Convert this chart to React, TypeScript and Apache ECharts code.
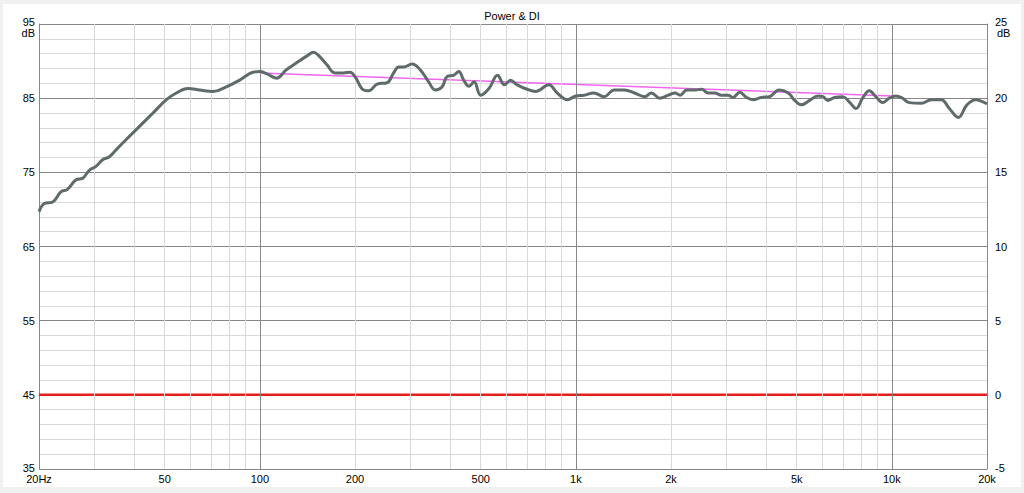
import React, { useEffect, useRef } from "react";
import * as echarts from "echarts";

// Power response (dB)
const powerFreqs = [
  20, 20.8, 22.1, 23.5, 24.6, 26.2, 27.5, 28.9, 30.3, 31.8, 33.4, 35, 37.7, 41.6, 45.9, 50.6, 54.4,
  59.2, 64.5, 71, 78, 86, 95, 100, 105, 113, 121, 132, 141, 148, 153, 163, 173, 184, 193, 200, 213,
  221, 235, 253, 265, 275, 285, 303, 322, 342, 359, 377, 391, 411, 426, 442, 459, 476, 500, 531, 565,
  594, 621, 652, 701, 745, 821, 873, 939, 1000, 1060, 1140, 1228, 1322, 1424, 1533, 1651, 1733, 1843,
  1962, 2060, 2137, 2244, 2385, 2500, 2621, 2752, 2889, 3030, 3143, 3300, 3467, 3640, 3855, 4096,
  4396, 4700, 4925, 5170, 5490, 5830, 6050, 6270, 6580, 6990, 7330, 7700, 8080, 8480, 8900, 9350,
  9810, 10300, 10800, 11340, 12400, 13330, 14330, 15200, 16230, 17280, 18400, 19430, 20000,
];
const powerDb = [
  69.7, 70.8, 71.0, 72.4, 72.7, 74.0, 74.2, 75.3, 75.8, 76.7, 77.1, 78.0, 79.4, 81.2, 83.0, 84.8, 85.7,
  86.3, 86.1, 85.9, 86.5, 87.4, 88.5, 88.6, 88.3, 87.7, 88.8, 89.9, 90.7, 91.2, 90.8, 89.5, 88.4, 88.4,
  88.5, 87.9, 86.1, 86.0, 86.9, 87.1, 88.4, 89.2, 89.2, 89.6, 88.8, 87.2, 86.1, 86.5, 87.9, 88.1, 88.6,
  87.4, 86.6, 87.2, 85.4, 86.3, 88.1, 86.8, 87.4, 86.8, 86.2, 85.9, 86.8, 85.7, 84.8, 85.3, 85.4, 85.7,
  85.2, 86.1, 86.1, 85.7, 85.2, 85.7, 85.0, 85.4, 85.7, 85.4, 86.1, 86.1, 86.2, 85.7, 85.7, 85.4, 85.4,
  85.1, 85.8, 85.1, 84.8, 85.1, 85.2, 86.1, 85.7, 84.7, 84.1, 84.7, 85.3, 85.2, 84.7, 85.1, 85.2, 84.5,
  83.6, 85.0, 86.0, 85.2, 84.4, 85.0, 85.3, 85.0, 84.4, 84.3, 84.8, 84.8, 83.6, 82.4, 84.1, 84.8, 84.5,
  84.2,
];

// Slope reference line (dB)
const slopeFreqs = [100, 10000];
const slopeDb = [88.4, 85.3];

// Directivity index (right axis, dB)
const diFreqs = [20, 20000];
const diValues = [0, 0];

// Axis ticks / grid
const xLabelFreqs = [20, 50, 100, 200, 500, 1000, 2000, 5000, 10000, 20000];
const xMinorGrid = [
  30, 40, 50, 60, 70, 80, 90, 200, 300, 400, 500, 600, 700, 800, 900, 2000, 3000, 4000, 5000, 6000,
  7000, 8000, 9000,
];
const xMajorGrid = [100, 1000, 10000];
const leftTicks = [35, 45, 55, 65, 75, 85, 95];

const FONT = "Liberation Sans";
const MAJOR = "#878787";
const MINOR = "#d9d9d9";

const App = () => {
  const chartRef = useRef<HTMLDivElement>(null);

  useEffect(() => {
    const chart = echarts.init(chartRef.current, null, { renderer: "svg" });
    const label = { color: "#000", fontFamily: FONT, fontSize: 11 };
    const rich = {
      up: { ...label, padding: [0, 0, 4, 0] },
      lo: { ...label, padding: [0, 0, 3, 0] },
    };
    const edgeFmt = (top: number, bottom: number) => (v: number) =>
      v === top ? `{up|${v}}` : v === bottom ? `{lo|${v}}` : `${v}`;

    chart.setOption({
      animation: false,
      title: {
        text: "Power & DI",
        left: "center",
        top: 1,
        textStyle: { ...label, fontWeight: "normal" },
      },
      graphic: [
        { type: "text", right: 1018 - 32, top: 23, style: { text: "dB", fill: "#000", font: `11px ${FONT}` } },
        { type: "text", left: 994, top: 23, style: { text: "dB", fill: "#000", font: `11px ${FONT}` } },
      ],
      grid: { left: 36, top: 20, right: 34, bottom: 18 },
      xAxis: {
        type: "log",
        logBase: 10,
        min: 20,
        max: 20000,
        axisLine: { show: true, lineStyle: { color: MAJOR } },
        axisTick: { show: false },
        splitLine: { show: false },
        minorSplitLine: { show: false },
        axisLabel: {
          ...label,
          margin: 4,
          customValues: xLabelFreqs,
          showMinLabel: true,
          showMaxLabel: true,
          hideOverlap: false,
          formatter: (v: number) =>
            v === 20 ? "20Hz" : v >= 1000 ? `${Math.round(v / 1000)}k` : `${Math.round(v)}`,
        },
      },
      yAxis: [
        {
          type: "value",
          min: 35,
          max: 95,
          position: "left",
          axisLine: { show: true, lineStyle: { color: MAJOR } },
          axisTick: { show: false },
          splitLine: { show: false },
          axisLabel: {
            ...label,
            margin: 4,
            customValues: leftTicks,
            showMinLabel: true,
            showMaxLabel: true,
            formatter: edgeFmt(95, 35),
            rich,
          },
        },
        {
          type: "value",
          min: -5,
          max: 25,
          interval: 5,
          position: "right",
          axisLine: { show: true, lineStyle: { color: MAJOR } },
          axisTick: { show: false },
          minorTick: { show: false, splitNumber: 5 },
          splitLine: { show: true, lineStyle: { color: MAJOR, width: 1 } },
          minorSplitLine: { show: true, lineStyle: { color: MINOR, width: 1 } },
          axisLabel: {
            ...label,
            margin: 8,
            showMinLabel: true,
            showMaxLabel: true,
            formatter: edgeFmt(25, -5),
            rich,
          },
        },
      ],
      series: [
        {
          name: "grid",
          type: "line",
          data: [],
          z: 1,
          silent: true,
          markLine: {
            silent: true,
            symbol: ["none", "none"],
            label: { show: false },
            emphasis: { disabled: true },
            data: [
              ...xMinorGrid.map((f) => ({ xAxis: f, lineStyle: { color: MINOR, width: 1, type: "solid" } })),
              ...xMajorGrid.map((f) => ({ xAxis: f, lineStyle: { color: MAJOR, width: 1, type: "solid" } })),
            ],
          },
        },
        {
          name: "DI",
          type: "line",
          yAxisIndex: 1,
          data: diFreqs.map((f, i) => [f, diValues[i]]),
          showSymbol: false,
          z: 3,
          lineStyle: { color: "#e3201c", width: 2.5 },
        },
        {
          name: "Slope",
          type: "line",
          data: slopeFreqs.map((f, i) => [f, slopeDb[i]]),
          showSymbol: false,
          z: 4,
          lineStyle: { color: "#f066f0", width: 1.5 },
        },
        {
          name: "Power",
          type: "line",
          data: powerFreqs.map((f, i) => [f, powerDb[i]]),
          showSymbol: false,
          smooth: 0.4,
          z: 5,
          lineStyle: { color: "#5e6b6a", width: 3 },
        },
      ],
    });

    return () => {
      chart.dispose();
    };
  }, []);

  return (
    <div style={{ position: "fixed", inset: 0, background: "#f0f0f0" }}>
      <div
        ref={chartRef}
        style={{ position: "absolute", left: 3, top: 4, width: 1018, height: 483, background: "#fff" }}
      />
    </div>
  );
};

export default App;
